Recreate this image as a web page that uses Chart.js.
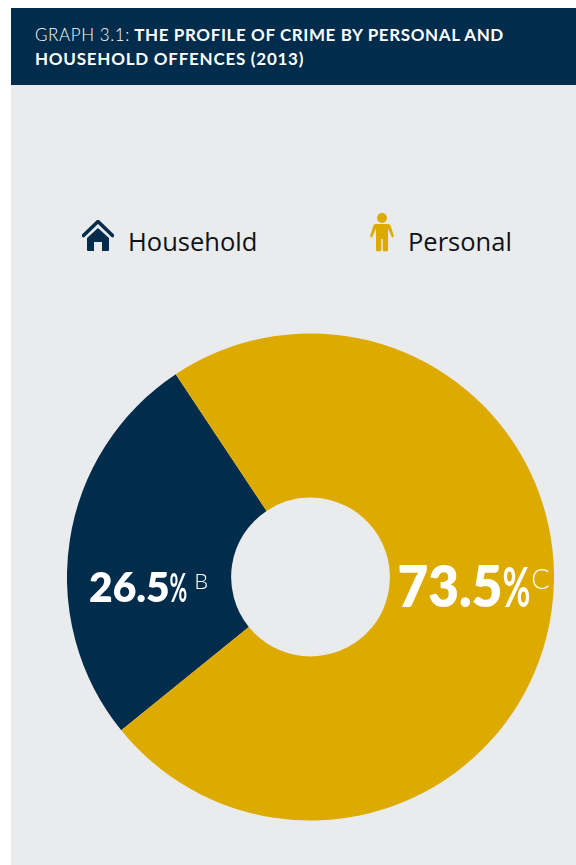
<!DOCTYPE html>
<html><head><meta charset="utf-8">
<script src="https://cdn.jsdelivr.net/npm/chart.js@4"></script>
<style>
html,body{margin:0;padding:0;background:#fff;overflow:hidden}
#page{position:relative;width:576px;height:865px;overflow:hidden}
#panel{position:absolute;left:11px;top:85px;width:565px;height:780px;background:#eaebed}
#head{position:absolute;left:11px;top:8px;width:565px;height:77px;background:#012c4b;color:#fff;font:700 17px/24px Lato,sans-serif;letter-spacing:.6px}
#head div{position:absolute;left:24px;white-space:nowrap}
#head .l{font-weight:300}
.leg{position:absolute;font:400 25.5px/34px "Open Sans",sans-serif;color:#0d1318;white-space:nowrap}
svg{position:absolute}
#c{position:absolute;left:67px;top:333px}
</style></head><body><div id="page">
<div id="panel"></div>
<div id="head"><div style="top:15px"><span class="l">GRAPH 3.1:</span> THE PROFILE OF CRIME BY PERSONAL AND</div><div style="top:39px;letter-spacing:.75px">HOUSEHOLD OFFENCES (2013)</div></div>
<svg style="left:82px;top:220px" width="32" height="32" viewBox="0 0 32 32"><path d="M1.5 15.5 L16 1.5 L30.5 15.5" fill="none" stroke="#012c4b" stroke-width="3.6" stroke-linecap="round" stroke-linejoin="round"/><path d="M5 18 L16 8 L27 18 V30 a1 1 0 0 1 -1 1 H20 V22 H12 V31 H6 a1 1 0 0 1 -1 -1Z" fill="#012c4b"/></svg>
<div class="leg" id="lh" style="left:128px;top:224px"></div>
<svg style="left:369px;top:212px" width="26" height="40" viewBox="0 0 26 40"><circle cx="13" cy="6" r="5" fill="#ddaa00"/><path d="M6.5 12 H19.5 Q21 12 21.6 13.5 L25 24.5 L23 25.5 L19 16.5 V38 a1.3 1.3 0 0 1 -1.3 1.3 H15 a1.3 1.3 0 0 1 -1.3 -1.3 V27 H12.3 V38 a1.3 1.3 0 0 1 -1.3 1.3 H8.3 A1.3 1.3 0 0 1 7 38 V16.5 L3 25.5 L1 24.5 L4.4 13.5 Q5 12 6.5 12Z" fill="#ddaa00"/></svg>
<div class="leg" id="lp" style="left:408px;top:224px"></div>
<canvas id="c" width="487" height="488"></canvas>
</div>
<script>
const categories = ["Household", "Personal"];
const shareValues = [26.5, 73.5];
const significance = ["B", "C"];
const sliceColors = ["#012c4b", "#ddaa00"];

document.getElementById("lh").textContent = categories[0];
document.getElementById("lp").textContent = categories[1];

const labelStyle = [
  {dx:-221.5, dy:25, num:42, numW:.97, pct:40, pctW:.54, sup:22, supDy:-13, gap:7},
  {dx:87, dy:30, num:57, numW:.93, pct:55, pctW:.62, sup:27, supDy:-18, gap:1}
];
const sliceLabels = {
  id:"sliceLabels",
  afterDatasetsDraw(chart){
    const ctx = chart.ctx, arcs = chart.getDatasetMeta(0).data;
    ctx.save();
    ctx.fillStyle = "#fff";
    ctx.textBaseline = "alphabetic";
    const squeezed = (text, x, y, w) => {
      ctx.save(); ctx.translate(x, y); ctx.scale(w, 1);
      ctx.fillText(text, 0, 0);
      ctx.restore();
      return ctx.measureText(text).width * w;
    };
    arcs.forEach((arc,i)=>{
      const s = labelStyle[i];
      let x = arc.x + s.dx, y = arc.y + s.dy;
      const num = shareValues[i].toFixed(1);
      ctx.font = `800 ${s.num}px Lato, sans-serif`;
      x += squeezed(num, x, y, s.numW);
      ctx.font = `700 ${s.pct}px Lato, sans-serif`;
      x += squeezed("%", x, y, s.pctW) + s.gap;
      ctx.font = `300 ${s.sup}px Lato, sans-serif`;
      ctx.fillText(significance[i], x, y + s.supDy);
    });
    ctx.restore();
  }
};
new Chart(document.getElementById("c"), {
  type:"doughnut",
  data:{labels:categories, datasets:[{data:shareValues, backgroundColor:sliceColors, borderWidth:0}]},
  options:{responsive:false, animation:false, rotation:231, cutout:"32.6%",
    layout:{padding:0},
    plugins:{legend:{display:false}, tooltip:{enabled:false}}},
  plugins:[sliceLabels]
});
</script></body></html>
